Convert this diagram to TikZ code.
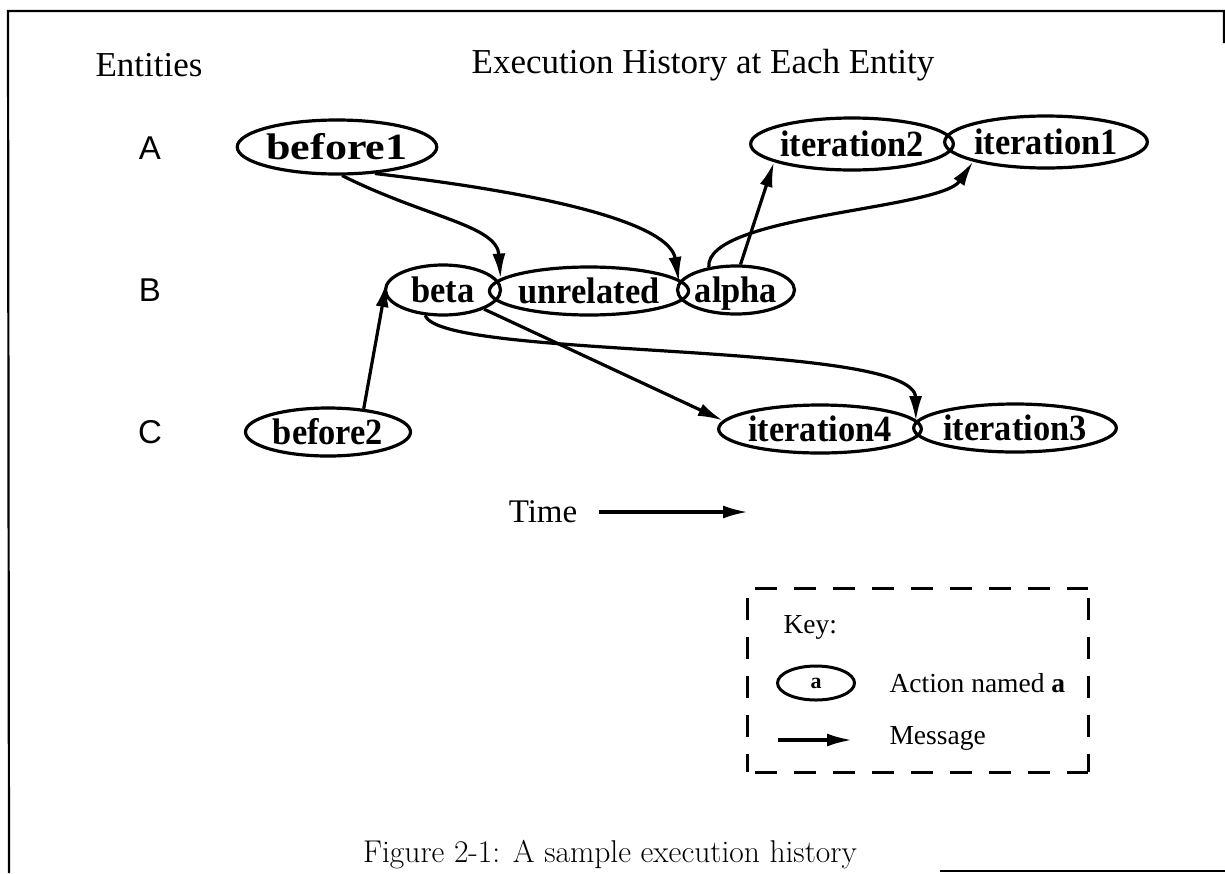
\documentclass[tikz,border=0pt]{standalone}
\usepackage{fontspec}
\usetikzlibrary{shapes.geometric,arrows.meta}
\newfontfamily\tms{Liberation Serif}
\newfontfamily\tmsc[FakeStretch=0.93]{Liberation Serif}
\newfontfamily\hlv{Liberation Sans}
\tikzset{
  act/.style={ellipse, draw, line width=3.2pt, inner sep=0pt,
    text height=27pt, text depth=3pt,
    font=\tmsc\bfseries\fontsize{37}{42}\selectfont},
  msg/.style={-{Latex[length=25pt,width=13pt]}, line width=3.2pt},
  lbl/.style={font=\tms\fontsize{35}{40}\selectfont},
  ent/.style={font=\hlv\fontsize{33}{38}\selectfont},
  keytxt/.style={font=\tms\fontsize{27.5}{32}\selectfont, anchor=west},
  frame/.style={line width=2.2pt},
  keyedge/.style={line width=3pt, dash pattern=on 22pt off 17pt}
}
\begin{document}
\begin{tikzpicture}[x=1pt,y=-1pt]
\useasboundingbox (0,0) rectangle (1225,873);
% frame
\coordinate (f1) at (8,11);
\coordinate (f2) at (1224,11);
\coordinate (f3) at (1224,43);
\coordinate (f4) at (9,873);
\coordinate (f5) at (940,871);
\coordinate (f6) at (1225,871);
\draw[frame] (f4) -- (f1) -- (f2) -- (f3);
\draw[frame] (f5) -- (f6);
% headings
\node[lbl] (entities) at (149,65) {Entities};
\node[lbl] (title) at (703,65) {Execution History at Each Entity};
\node[ent] (A) at (150,148) {A};
\node[ent] (B) at (150,290) {B};
\node[ent] (C) at (150,432) {C};
% actions
\node[act, minimum width=170, minimum height=54] (before1) at (337,147) {\scalebox{1.28}[1]{before1}};
\node[act, minimum width=190, minimum height=52] (iteration2) at (852,144) {iteration2};
\node[act, minimum width=198, minimum height=52] (iteration1) at (1046,142) {iteration1};
\node[act, minimum width=115, minimum height=50] (beta) at (443,290) {beta};
\node[act, minimum width=178, minimum height=48] (unrelated) at (589,291) {unrelated};
\node[act, minimum width=117, minimum height=48] (alpha) at (736,290) {alpha};
\node[act, minimum width=165, minimum height=48] (before2) at (328,432) {before2};
\node[act, minimum width=195, minimum height=48] (iteration4) at (820,429) {iteration4};
\node[act, minimum width=196, minimum height=48] (iteration3) at (1015,428) {iteration3};
% messages
\draw[msg] (before1.-80) .. controls (427,218) and (497,225) .. (unrelated.172);
\draw[msg] (before1.-35) .. controls (560,195) and (670,225) .. (alpha.172);
\draw[msg] (alpha.80) -- (iteration2.193);
\draw[msg] (alpha.140) .. controls (705,215) and (940,210) .. (iteration1.195);
\draw[msg] (before2.33) -- (beta.172);
\draw[msg] (beta.-125) .. controls (440,360) and (915,340) .. (iteration3.176);
\draw[msg] (beta.-25) -- (iteration4.175);
% time
\node[lbl, font=\tms\fontsize{33}{38}\selectfont] (time) at (543,512) {Time};
\coordinate (timeend) at (748,512);
\draw[msg] ([xshift=18pt]time.east) -- (timeend);
% key box
\coordinate (k1) at (747,588);
\coordinate (k2) at (1088,588);
\coordinate (k3) at (1088,772);
\coordinate (k4) at (747,772);
\draw[keyedge, dash phase=-8pt] (k1) -- (k2);
\draw[keyedge, dash phase=-10pt] (k1) -- (k4);
\draw[keyedge, dash phase=-10pt] (k2) -- (k3);
\draw[keyedge, dash phase=-8pt] (k4) -- (k3);
\node[keytxt] (keylbl) at (780,627) {Key:};
\node[ellipse, draw, line width=3pt, inner sep=0pt, minimum width=77, minimum height=34,
  font=\tms\bfseries\fontsize{22}{26}\selectfont] (keya) at (816,683) {a};
\node[keytxt] (keyact) at (886,683) {Action named \textbf{a}};
\coordinate (km1) at (778,740);
\coordinate (km2) at (852,740);
\draw[msg] (km1) -- (km2);
\node[keytxt] (keymsg) at (886,738) {Message};
% caption
\node[font=\fontsize{31.5}{36}\selectfont] (caption) at (610,855) {Figure 2-1: A sample execution history};
\end{tikzpicture}
\end{document}
